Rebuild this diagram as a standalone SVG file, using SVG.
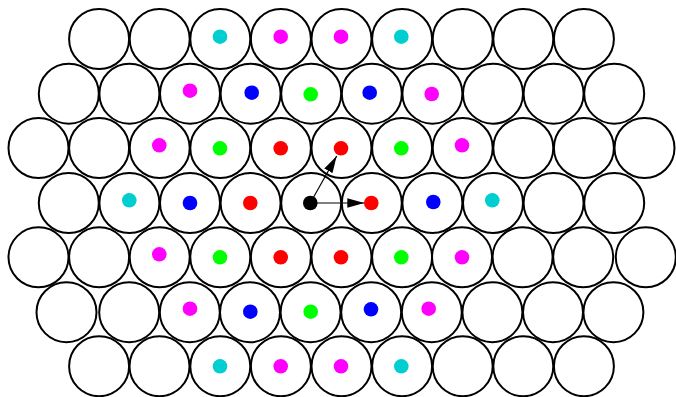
<svg xmlns="http://www.w3.org/2000/svg" width="676" height="397" viewBox="0 0 676 397">
<style>
.c{fill:none;stroke:#000;stroke-width:2}
.d{stroke:none}
.cy{fill:#00CED1}.mg{fill:#FF00FF}.bl{fill:#0000FF}.gr{fill:#00FF00}.rd{fill:#FF0000}.bk{fill:#000}
.e{stroke:#000;stroke-width:1.2;fill:none}
</style>
<defs>
<marker id="ah" markerUnits="userSpaceOnUse" markerWidth="18" markerHeight="10" refX="17" refY="4.7" orient="auto">
<path d="M0,0 L17,4.7 L0,9.4 z" fill="#000"/>
</marker>
</defs>
<rect width="676" height="397" fill="#fff"/>
<g id="nodes">
<!-- row 0 -->
<g id="r0c1"><circle class="c" cx="99.1" cy="39" r="30"/></g>
<g id="r0c2"><circle class="c" cx="159.7" cy="39" r="30"/></g>
<g id="r0c3"><circle class="c" cx="220.3" cy="39" r="30"/><circle class="d cy" cx="220" cy="36.7" r="7.3"/></g>
<g id="r0c4"><circle class="c" cx="280.9" cy="39" r="30"/><circle class="d mg" cx="280.7" cy="36.7" r="7.3"/></g>
<g id="r0c5"><circle class="c" cx="341.5" cy="39" r="30"/><circle class="d mg" cx="341" cy="36.7" r="7.3"/></g>
<g id="r0c6"><circle class="c" cx="402.1" cy="39" r="30"/><circle class="d cy" cx="401.3" cy="36.7" r="7.3"/></g>
<g id="r0c7"><circle class="c" cx="462.7" cy="39" r="30"/></g>
<g id="r0c8"><circle class="c" cx="523.3" cy="39" r="30"/></g>
<g id="r0c9"><circle class="c" cx="583.9" cy="39" r="30"/></g>
<!-- row 1 -->
<g id="r1c0"><circle class="c" cx="68.8" cy="93.7" r="30"/></g>
<g id="r1c1"><circle class="c" cx="129.4" cy="93.7" r="30"/></g>
<g id="r1c2"><circle class="c" cx="190" cy="93.7" r="30"/><circle class="d mg" cx="190" cy="90.7" r="7.3"/></g>
<g id="r1c3"><circle class="c" cx="250.6" cy="93.7" r="30"/><circle class="d bl" cx="251.7" cy="92.7" r="7.3"/></g>
<g id="r1c4"><circle class="c" cx="311.2" cy="93.7" r="30"/><circle class="d gr" cx="310.7" cy="94.3" r="7.3"/></g>
<g id="r1c5"><circle class="c" cx="371.8" cy="93.7" r="30"/><circle class="d bl" cx="369.7" cy="92.7" r="7.3"/></g>
<g id="r1c6"><circle class="c" cx="432.4" cy="93.7" r="30"/><circle class="d mg" cx="431.7" cy="94" r="7.3"/></g>
<g id="r1c7"><circle class="c" cx="493" cy="93.7" r="30"/></g>
<g id="r1c8"><circle class="c" cx="553.6" cy="93.7" r="30"/></g>
<g id="r1c9"><circle class="c" cx="614.2" cy="93.7" r="30"/></g>
<!-- row 2 -->
<g id="r2c0"><circle class="c" cx="38.5" cy="148" r="30"/></g>
<g id="r2c1"><circle class="c" cx="99.1" cy="148" r="30"/></g>
<g id="r2c2"><circle class="c" cx="159.7" cy="148" r="30"/><circle class="d mg" cx="159.3" cy="145.3" r="7.3"/></g>
<g id="r2c3"><circle class="c" cx="220.3" cy="148" r="30"/><circle class="d gr" cx="220" cy="148.3" r="7.3"/></g>
<g id="r2c4"><circle class="c" cx="280.9" cy="148" r="30"/><circle class="d rd" cx="280.7" cy="148.3" r="7.3"/></g>
<g id="r2c5"><circle class="c" cx="341.5" cy="148" r="30"/><circle class="d rd" cx="341" cy="148.3" r="7.3"/></g>
<g id="r2c6"><circle class="c" cx="402.1" cy="148" r="30"/><circle class="d gr" cx="401.3" cy="148.3" r="7.3"/></g>
<g id="r2c7"><circle class="c" cx="462.7" cy="148" r="30"/><circle class="d mg" cx="462" cy="145.3" r="7.3"/></g>
<g id="r2c8"><circle class="c" cx="523.3" cy="148" r="30"/></g>
<g id="r2c9"><circle class="c" cx="583.9" cy="148" r="30"/></g>
<g id="r2c10"><circle class="c" cx="644.5" cy="148" r="30"/></g>
<!-- row 3 -->
<g id="r3c0"><circle class="c" cx="68.8" cy="203" r="30"/></g>
<g id="r3c1"><circle class="c" cx="129.4" cy="203" r="30"/><circle class="d cy" cx="129.3" cy="200.3" r="7.3"/></g>
<g id="r3c2"><circle class="c" cx="190" cy="203" r="30"/><circle class="d bl" cx="190" cy="203" r="7.3"/></g>
<g id="r3c3"><circle class="c" cx="250.6" cy="203" r="30"/><circle class="d rd" cx="250.3" cy="203" r="7.3"/></g>
<g id="r3c4"><circle class="c" cx="311.2" cy="203" r="30"/><circle class="d bk" cx="310.3" cy="203" r="7.3"/></g>
<g id="r3c5"><circle class="c" cx="371.8" cy="203" r="30"/><circle class="d rd" cx="371.3" cy="203" r="7.3"/></g>
<g id="r3c6"><circle class="c" cx="432.4" cy="203" r="30"/><circle class="d bl" cx="433.3" cy="202" r="7.3"/></g>
<g id="r3c7"><circle class="c" cx="493" cy="203" r="30"/><circle class="d cy" cx="492.3" cy="200.3" r="7.3"/></g>
<g id="r3c8"><circle class="c" cx="553.6" cy="203" r="30"/></g>
<g id="r3c9"><circle class="c" cx="614.2" cy="203" r="30"/></g>
<!-- row 4 -->
<g id="r4c0"><circle class="c" cx="38.5" cy="257.3" r="30"/></g>
<g id="r4c1"><circle class="c" cx="99.1" cy="257.3" r="30"/></g>
<g id="r4c2"><circle class="c" cx="159.7" cy="257.3" r="30"/><circle class="d mg" cx="159.3" cy="254.3" r="7.3"/></g>
<g id="r4c3"><circle class="c" cx="220.3" cy="257.3" r="30"/><circle class="d gr" cx="220" cy="257.3" r="7.3"/></g>
<g id="r4c4"><circle class="c" cx="280.9" cy="257.3" r="30"/><circle class="d rd" cx="280.7" cy="257.3" r="7.3"/></g>
<g id="r4c5"><circle class="c" cx="341.5" cy="257.3" r="30"/><circle class="d rd" cx="341" cy="257.3" r="7.3"/></g>
<g id="r4c6"><circle class="c" cx="402.1" cy="257.3" r="30"/><circle class="d gr" cx="401.3" cy="257.3" r="7.3"/></g>
<g id="r4c7"><circle class="c" cx="462" cy="257.3" r="30"/><circle class="d mg" cx="462" cy="257.3" r="7.3"/></g>
<g id="r4c8"><circle class="c" cx="522.6" cy="257.3" r="30"/></g>
<g id="r4c9"><circle class="c" cx="583.2" cy="257.3" r="30"/></g>
<g id="r4c10"><circle class="c" cx="645.8" cy="257.3" r="30"/></g>
<!-- row 5 -->
<g id="r5c0"><circle class="c" cx="66.5" cy="312.2" r="30"/></g>
<g id="r5c1"><circle class="c" cx="129.2" cy="312.2" r="30"/></g>
<g id="r5c2"><circle class="c" cx="189.8" cy="312.2" r="30"/><circle class="d mg" cx="190" cy="308.7" r="7.3"/></g>
<g id="r5c3"><circle class="c" cx="250" cy="312.2" r="30"/><circle class="d bl" cx="250.3" cy="311.7" r="7.3"/></g>
<g id="r5c4"><circle class="c" cx="310.6" cy="312.2" r="30"/><circle class="d gr" cx="310.7" cy="311.7" r="7.3"/></g>
<g id="r5c5"><circle class="c" cx="371.2" cy="312.2" r="30"/><circle class="d bl" cx="371" cy="309.3" r="7.3"/></g>
<g id="r5c6"><circle class="c" cx="431.8" cy="312.2" r="30"/><circle class="d mg" cx="428.7" cy="308.7" r="7.3"/></g>
<g id="r5c7"><circle class="c" cx="492.4" cy="312.2" r="30"/></g>
<g id="r5c8"><circle class="c" cx="553" cy="312.2" r="30"/></g>
<g id="r5c9"><circle class="c" cx="613.4" cy="312.2" r="30"/></g>
<!-- row 6 -->
<g id="r6c1"><circle class="c" cx="99.1" cy="366.2" r="30"/></g>
<g id="r6c2"><circle class="c" cx="159.5" cy="366.2" r="30"/></g>
<g id="r6c3"><circle class="c" cx="220.3" cy="366.2" r="30"/><circle class="d cy" cx="220" cy="366.3" r="7.3"/></g>
<g id="r6c4"><circle class="c" cx="280.9" cy="366.2" r="30"/><circle class="d mg" cx="280.7" cy="366.3" r="7.3"/></g>
<g id="r6c5"><circle class="c" cx="341.5" cy="366.2" r="30"/><circle class="d mg" cx="341" cy="366.3" r="7.3"/></g>
<g id="r6c6"><circle class="c" cx="402.1" cy="366.2" r="30"/><circle class="d cy" cx="401.3" cy="366.3" r="7.3"/></g>
<g id="r6c7"><circle class="c" cx="462.7" cy="366.2" r="30"/></g>
<g id="r6c8"><circle class="c" cx="523.3" cy="366.2" r="30"/></g>
<g id="r6c9"><circle class="c" cx="583.9" cy="366.2" r="30"/></g>
</g>
<g id="connectors">
<line class="e" x1="310.3" y1="203" x2="336.7" y2="156" marker-end="url(#ah)"/>
<line class="e" x1="310.3" y1="203" x2="364.3" y2="203" marker-end="url(#ah)"/>
</g>
</svg>
